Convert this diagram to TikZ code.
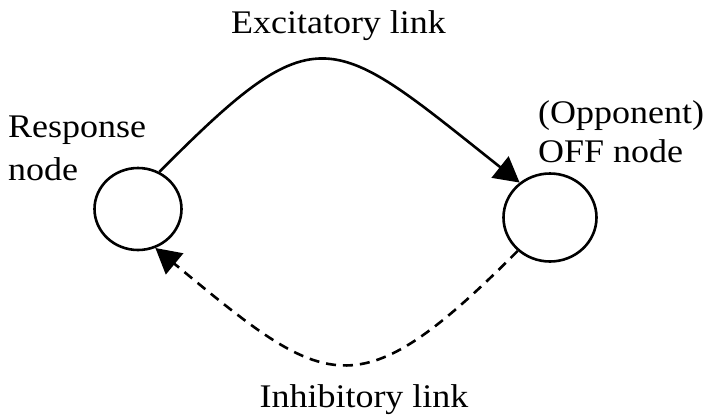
\documentclass[tikz,border=0pt]{standalone}
\usepackage{fontspec}
\setmainfont[FakeStretch=1.09]{Liberation Serif}
\usetikzlibrary{arrows.meta,shapes.geometric}
\begin{document}
\begin{tikzpicture}[x=1pt,y=-1pt,
  nodecirc/.style={draw,ellipse,line width=2.6pt,inner sep=0pt},
  lbl/.style={font=\fontsize{33}{43}\selectfont,inner sep=0pt},
  link/.style={line width=2.6pt,-{Triangle[length=25pt,width=27pt]}},
  inhib/.style={link,dash pattern=on 10pt off 7pt}]
\useasboundingbox (0,0) rectangle (710,416);
\node[nodecirc,minimum width=87pt,minimum height=82pt] (resp) at (138,209) {};
\node[nodecirc,minimum width=93pt,minimum height=88pt] (off) at (550,217.5) {};
\node[lbl,anchor=base] (exc) at (338.5,33) {Excitatory link};
\node[lbl,anchor=base] (inh) at (364,407) {Inhibitory link};
\node[lbl,anchor=base west] (rl1) at (8,137) {Response};
\node[lbl,anchor=base west] (rl2) at (8,180) {node};
\node[lbl,anchor=base west] (ol1) at (538,123) {(Opponent)};
\node[lbl,anchor=base west] (ol2) at (538,162) {OFF node};
\draw[link] (resp.60) .. controls (319,11) and (330,32) .. (off.131);
\draw[inhib] (off.226) .. controls (356,413) and (327,390) .. (resp.294);
\end{tikzpicture}
\end{document}
